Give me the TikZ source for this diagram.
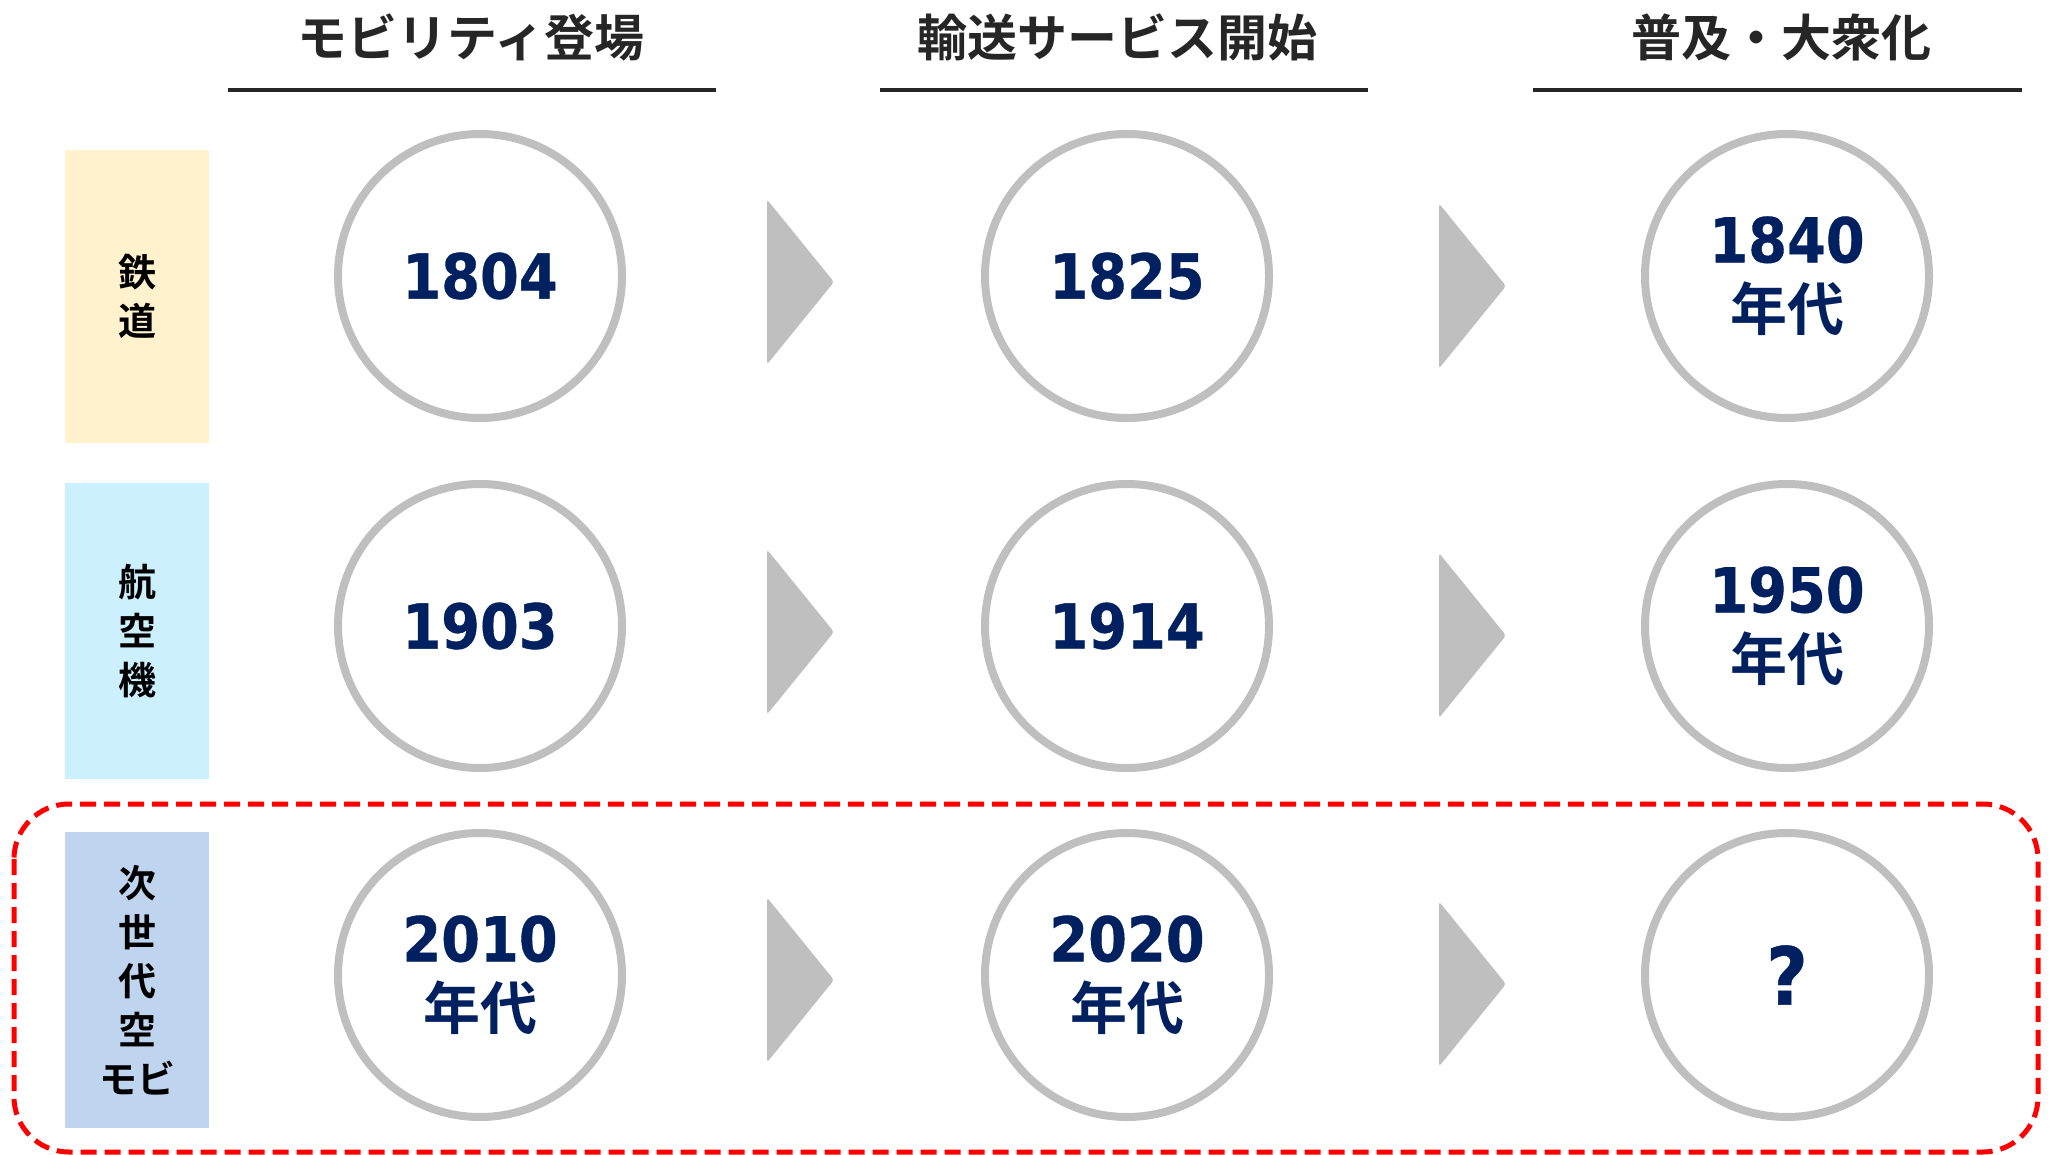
\documentclass[tikz,border=0pt]{standalone}
\usepackage{fontspec}
\newfontfamily\cjk{Noto Sans CJK JP}[UprightFont=* Bold]
\newfontfamily\numfont{DejaVu Sans}[UprightFont=* Bold, FakeStretch=0.9, FakeBold=0.6]
\definecolor{navy}{HTML}{002060}
\definecolor{ringgray}{HTML}{BFBFBF}
\definecolor{headgray}{HTML}{262626}
\definecolor{boxyellow}{HTML}{FFF2CC}
\definecolor{boxcyan}{HTML}{CCF0FE}
\definecolor{boxblue}{HTML}{BFD4EE}
\tikzset{
  ring/.style={circle, draw=ringgray, line width=8pt, minimum size=284pt, inner sep=0pt,
    text=navy, align=center, font=\fontsize{62}{68}\selectfont\numfont},
  headtxt/.style={text=headgray, font=\fontsize{50}{56}\selectfont\cjk, inner sep=0pt},
  headline/.style={draw=headgray, line width=4pt},
  rowbox/.style={minimum width=144.5pt, inner sep=0pt, text=black, align=center,
    font=\fontsize{38}{49}\selectfont\cjk},
  chevron/.style={fill=ringgray, rounded corners=3pt}
}
\newcommand{\nendai}{{\cjk\fontsize{57}{68}\selectfont 年代}}
\begin{document}
\begin{tikzpicture}[x=1pt,y=-1pt]
\useasboundingbox (0,0) rectangle (2053,1155);
% headers
\node[headtxt] (h1) at (471,37) {モビリティ登場};
\node[headtxt] (h2) at (1117,37) {輸送サービス開始};
\node[headtxt] (h3) at (1781,37) {普及・大衆化};
\draw[headline] (228,90) -- (716,90);
\draw[headline] (880,90) -- (1368,90);
\draw[headline] (1533,90) -- (2022,90);
% dashed frame
\draw[red, line width=5pt, dash pattern=on 16pt off 8pt, rounded corners=55pt] (14,804) rectangle (2038,1152);
% row boxes
\node[rowbox, fill=boxyellow, minimum height=292pt] (b1) at (137,296.5) {鉄\\道};
\node[rowbox, fill=boxcyan, minimum height=296pt] (b2) at (137,631) {航\\空\\機};
\node[rowbox, fill=boxblue, minimum height=296pt] (b3) at (137,980) {次\\世\\代\\空\\モビ};
% circles
\node[ring] (c11) at (480,276) {1804};
\node[ring] (c12) at (1127,276) {1825};
\node[ring] (c13) at (1787,276) {1840\\\nendai};
\node[ring] (c21) at (480,626) {1903};
\node[ring] (c22) at (1127,626) {1914};
\node[ring] (c23) at (1787,626) {1950\\\nendai};
\node[ring] (c31) at (480,975) {2010\\\nendai};
\node[ring] (c32) at (1127,975) {2020\\\nendai};
\node[ring, font=\fontsize{80}{80}\selectfont\numfont] (c33) at (1787,975) {?};
% chevrons
\foreach \cx/\cy in {767/282, 767/632, 767/980, 1439/286, 1439/635.5, 1439/984}{
  \fill[chevron] (\cx,\cy-82.5) -- (\cx+67,\cy) -- (\cx,\cy+82.5) -- cycle;
}
\end{tikzpicture}
\end{document}
